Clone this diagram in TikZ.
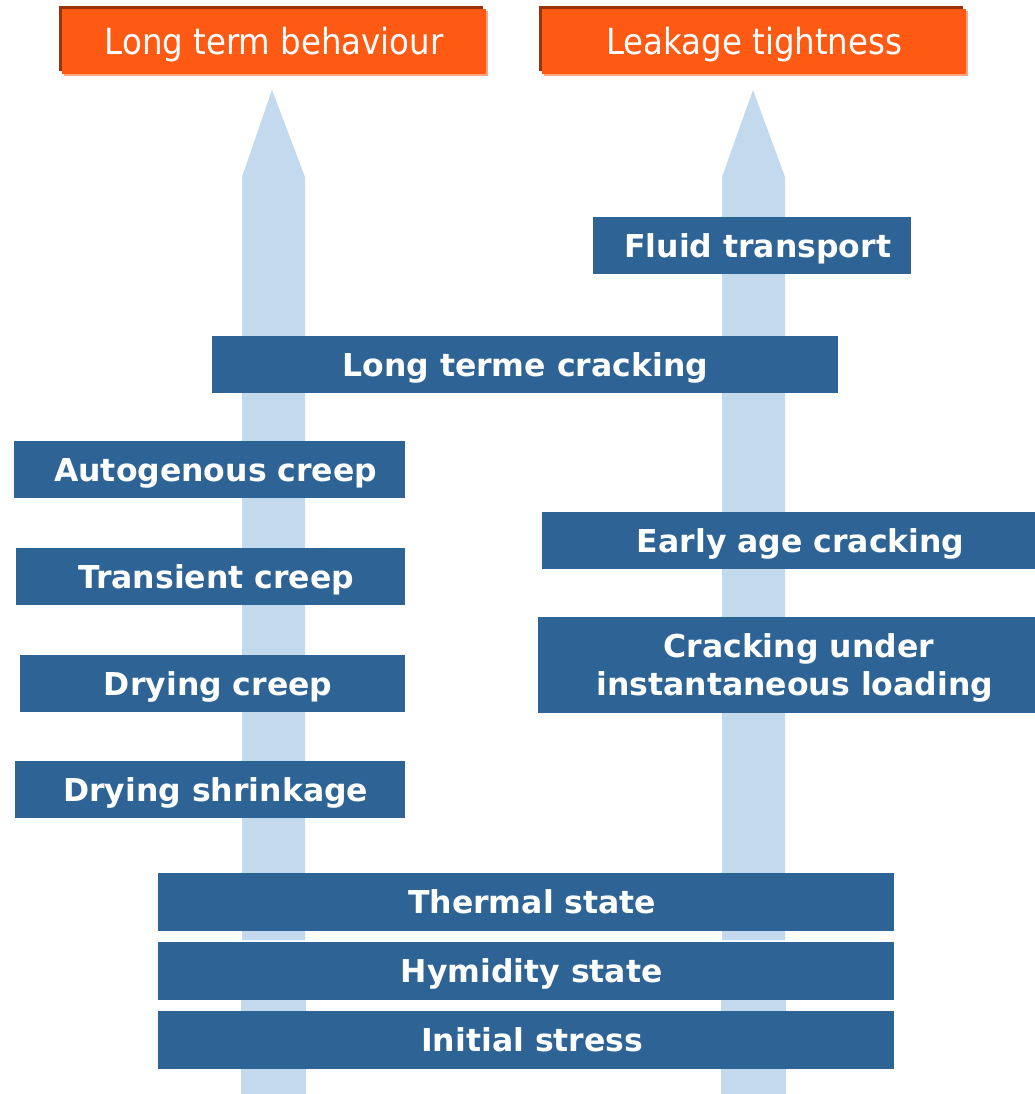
\documentclass[tikz,border=0pt]{standalone}
\usepackage{fontspec}
\setmainfont{DejaVu Sans}
\newfontfamily\titlefont[FakeStretch=0.9]{DejaVu Sans}
\definecolor{orangemain}{RGB}{255,90,20}
\definecolor{orangedark}{RGB}{150,52,12}
\definecolor{orangelight}{RGB}{255,165,125}
\definecolor{boxblue}{RGB}{45,99,149}
\definecolor{arrowblue}{RGB}{195,217,237}
\newcommand{\sh}[1]{\hspace*{#1}}
\tikzset{
  bluebox/.style={fill=boxblue, draw=none, text=white, anchor=north west,
    inner sep=0pt, align=center, text height=23pt, text depth=0pt,
    font=\bfseries\fontsize{31.5}{38}\selectfont},
  titlebox/.style={fill=orangemain, draw=none, text=white, anchor=north west,
    inner sep=0pt, text height=26pt, text depth=0pt,
    font=\titlefont\fontsize{36}{40}\selectfont},
}
\begin{document}
\begin{tikzpicture}[x=1pt,y=-1pt]
\useasboundingbox (0,0) rectangle (1035,1094);
% arrows
\fill[arrowblue] (242,940) -- (242,177) -- (272,90) -- (305,177) -- (305,940) -- cycle;
\fill[arrowblue] (722,940) -- (722,177) -- (753,90) -- (785,177) -- (785,940) -- cycle;
\fill[arrowblue] (241,990) rectangle (306,1094);
\fill[arrowblue] (721,990) rectangle (786,1094);
% title boxes with shadows
\fill[orangelight] (64,11) rectangle (488,76);
\fill[orangedark] (59,6) rectangle (483,71);
\node[titlebox, minimum width=424pt, minimum height=65pt] (ltb) at (62,9) {Long term behaviour};
\fill[orangelight] (544,11) rectangle (968,76);
\fill[orangedark] (539,6) rectangle (963,71);
\node[titlebox, minimum width=424pt, minimum height=65pt] (lt) at (542,9) {Leakage tightness};
% blue boxes
\node[bluebox, minimum width=318pt, minimum height=57pt] (fluid) at (593,217) {\sh{11pt}Fluid transport};
\node[bluebox, minimum width=626pt, minimum height=57pt] (ltc) at (212,336) {Long terme cracking};
\node[bluebox, minimum width=391pt, minimum height=57pt] (auto) at (14,441) {\sh{12pt}Autogenous creep};
\node[bluebox, minimum width=389pt, minimum height=57pt] (trans) at (16,548) {\sh{11pt}Transient creep};
\node[bluebox, minimum width=385pt, minimum height=57pt] (dryc) at (20,655) {\sh{11pt}Drying creep};
\node[bluebox, minimum width=390pt, minimum height=57pt] (drys) at (15,761) {\sh{11pt}Drying shrinkage};
\node[bluebox, minimum width=493pt, minimum height=57pt] (early) at (542,512) {\sh{24pt}Early age cracking};
\node[bluebox, minimum width=497pt, minimum height=96pt, text height=61pt, text depth=0pt] (inst) at (538,617) {\sh{24pt}Cracking under\\\sh{16pt}instantaneous loading};
\node[bluebox, minimum width=736pt, minimum height=58pt] (therm) at (158,873) {\sh{12pt}Thermal state};
\node[bluebox, minimum width=736pt, minimum height=58pt] (hym) at (158,942) {\sh{11pt}Hymidity state};
\node[bluebox, minimum width=736pt, minimum height=58pt] (init) at (158,1011) {\sh{12pt}Initial stress};
\end{tikzpicture}
\end{document}
